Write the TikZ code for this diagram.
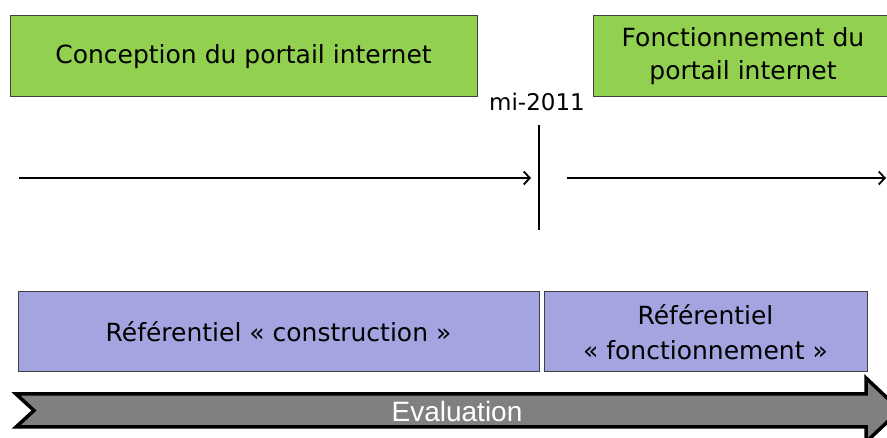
\documentclass[tikz,border=0pt]{standalone}
\usepackage{fontspec}
\setmainfont{DejaVu Sans}
\newfontfamily\evalfont{Liberation Sans}
\usetikzlibrary{arrows.meta}
\definecolor{boxgreen}{HTML}{92D050}
\definecolor{boxpurple}{HTML}{A4A4E0}
\definecolor{evalgray}{HTML}{808080}
\tikzset{
  phase/.style={draw=black!75, line width=1pt, fill=boxgreen, inner sep=0pt, align=center, font=\fontsize{25}{33}\selectfont},
  refbox/.style={draw=black!75, line width=1pt, fill=boxpurple, inner sep=0pt, align=center, font=\fontsize{25}{35}\selectfont},
  timeline/.style={line width=2.2pt, -{Straight Barb[length=6pt,width=13pt,line width=1.8pt]}},
}
\begin{document}
\begin{tikzpicture}[x=1pt,y=-1pt]
\useasboundingbox (0,0) rectangle (887,438);
\clip (0,0) rectangle (887,438);
% green phase boxes
\node[phase, minimum width=467pt, minimum height=81pt] (conc) at (243.5,56.5) {Conception du portail internet};
\node[phase, minimum width=300pt, minimum height=81pt] (fonc) at (743,56.5) {Fonctionnement du\\portail internet};
% milestone
\node[anchor=base, font=\fontsize{23}{26}\selectfont, inner sep=0pt] (mi) at (537,111) {mi-2011};
\coordinate (vtop) at (539,125);
\coordinate (vbot) at (539,230);
\draw[line width=2.2pt] (vtop) -- (vbot);
% timeline arrows
\coordinate (a1s) at (19,178);
\coordinate (a1e) at (531,178);
\coordinate (a2s) at (567,178);
\coordinate (a2e) at (886,178);
\draw[timeline] (a1s) -- (a1e);
\draw[timeline] (a2s) -- (a2e);
% referentials
\node[refbox, minimum width=521pt, minimum height=80pt] (rc) at (278.5,332) {Référentiel « construction »};
\node[refbox, minimum width=323pt, minimum height=80pt] (rf) at (705.5,332) {Référentiel\\« fonctionnement »};
% evaluation arrow
\draw[line width=3.5pt, fill=evalgray, line join=miter]
  (16,394) -- (866,394) -- (866,378) -- (900,410) -- (866,442) -- (866,427) -- (16,427) -- (34,410.5) -- cycle;
\node[text=white, font=\evalfont\fontsize{28}{30}\selectfont, inner sep=0pt] (ev) at (457,411) {Evaluation};
\end{tikzpicture}
\end{document}
